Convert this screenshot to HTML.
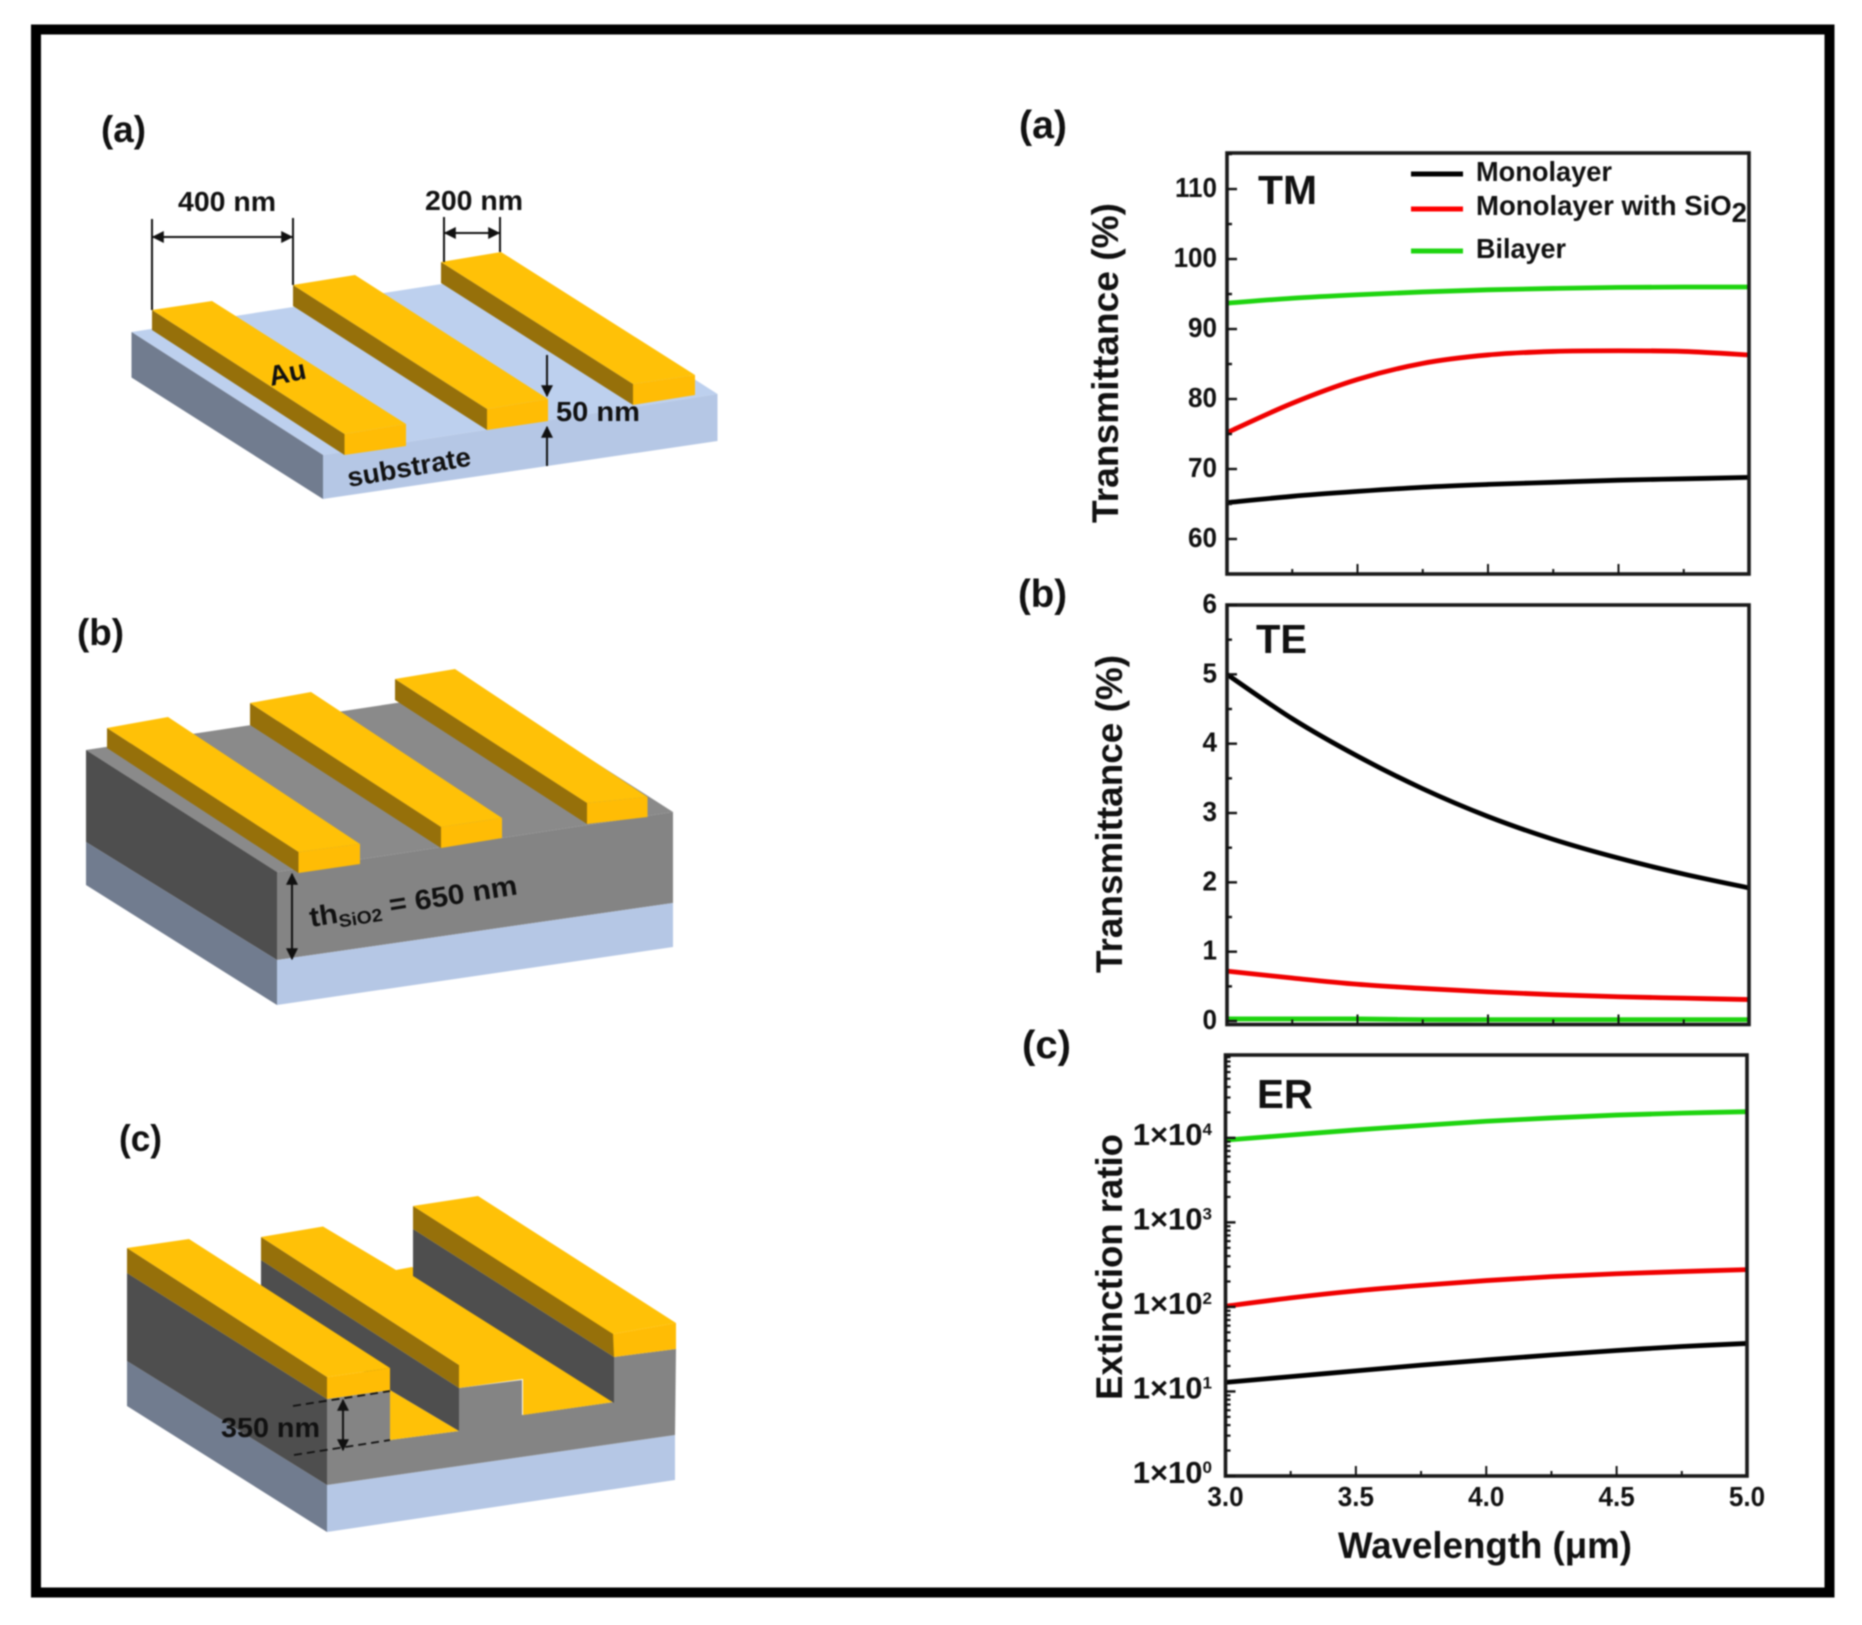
<!DOCTYPE html>
<html lang="en">
<head>
<meta charset="utf-8">
<title>Grating structures and transmittance spectra</title>
<style>
html,body{margin:0;padding:0;background:#fff;width:1862px;height:1625px;overflow:hidden}
svg{display:block;filter:blur(.85px)}
text{font-family:"Liberation Sans",Arial,sans-serif;font-weight:bold;fill:#111}
.gt{fill:#ffc107}.gf{fill:#ffbc05}.gd{fill:#96700a}
.st{fill:#bdd0ee}.sf{fill:#b5c7e5}.sl{fill:#717c8f}
.ot{fill:#8a8a8a}.of{fill:#848484}.ol{fill:#4e4e4e}
.dim{stroke:#111;stroke-width:2;fill:none}
</style>
</head>
<body>
<svg id="fig" xmlns="http://www.w3.org/2000/svg" width="1862" height="1625" viewBox="0 0 1862 1625">
<defs>
<marker id="ah" viewBox="0 0 10 10" refX="9" refY="5" markerWidth="6" markerHeight="6" orient="auto-start-reverse"><path d="M0 0L10 5L0 10z" fill="#111"/></marker>
</defs>
<rect x="36" y="29.5" width="1793.5" height="1563" fill="#fff" stroke="#000" stroke-width="10"/>

<g>
<text x="101" y="142" font-size="37" textLength="45" lengthAdjust="spacingAndGlyphs">(a)</text>
<polygon class="st" points="131.5,332 526,271 717.5,394 323,455"/>
<polygon class="sl" points="131.5,332 323,455 323,499 131.5,377.5"/>
<polygon class="sf" points="323,455 717.5,394 717.5,441 323,499"/>
<g><polygon class="gd" points="152,310 344.5,434 344.5,455 152,330"/><polygon class="gt" points="152,310 212,301 406,424 344.5,434"/><polygon class="gf" points="344.5,434 406,424 406,446 344.5,455"/></g>
<g><polygon class="gd" points="293,285 487,409 487,430 293,306"/><polygon class="gt" points="293,285 355,275 548,399 487,409"/><polygon class="gf" points="487,409 548,399 548,421 487,430"/></g>
<g><polygon class="gd" points="441,262 633,384 633,405 441,283"/><polygon class="gt" points="441,262 501,252 695,375 633,384"/><polygon class="gf" points="633,384 695,375 695,395 633,405"/></g>
<g>
<line class="dim" x1="152" y1="219" x2="152" y2="310"/><line class="dim" x1="293" y1="218" x2="293" y2="285"/>
<line class="dim" x1="153" y1="237" x2="292" y2="237" marker-start="url(#ah)" marker-end="url(#ah)"/>
<text x="178" y="211" font-size="28" textLength="98" lengthAdjust="spacingAndGlyphs">400 nm</text>
</g>
<g>
<line class="dim" x1="444" y1="217" x2="444" y2="262"/><line class="dim" x1="500" y1="217" x2="500" y2="252"/>
<line class="dim" x1="445" y1="233" x2="499" y2="233" marker-start="url(#ah)" marker-end="url(#ah)"/>
<text x="425" y="210" font-size="28" textLength="98" lengthAdjust="spacingAndGlyphs">200 nm</text>
</g>
<g>
<line class="dim" x1="547" y1="355" x2="547" y2="396" marker-end="url(#ah)"/>
<line class="dim" x1="547" y1="466" x2="547" y2="427" marker-end="url(#ah)" stroke-width="1"/>
<text x="556" y="421" font-size="28" textLength="84" lengthAdjust="spacingAndGlyphs">50 nm</text>
</g>
<text transform="translate(271,386) rotate(-12)" font-size="28">Au</text>
<text transform="translate(349,487) rotate(-10)" font-size="27" textLength="125" lengthAdjust="spacingAndGlyphs">substrate</text>
</g>

<g>
<text x="77" y="645" font-size="37" textLength="47" lengthAdjust="spacingAndGlyphs">(b)</text>
<polygon class="ot" points="86,750 482,690 673,812 277,872"/>
<polygon class="ol" points="86,750 277,872 277,960 86,842"/>
<polygon class="of" points="277,872 673,812 673,903 277,960"/>
<polygon class="sl" points="86,842 277,960 277,1005 86,885"/>
<polygon class="sf" points="277,960 673,903 673,947 277,1005"/>
<g><polygon class="gd" points="107,728 298.5,852 298.5,873 107,748"/><polygon class="gt" points="107,728 168,717 360,844 298.5,852"/><polygon class="gf" points="298.5,852 360,844 360,864 298.5,873"/></g>
<g><polygon class="gd" points="250,703 441,827 441,848 250,725"/><polygon class="gt" points="250,703 311,692 502,818 441,827"/><polygon class="gf" points="441,827 502,818 502,838 441,848"/></g>
<g><polygon class="gd" points="395,679 587,803 587,824 395,700"/><polygon class="gt" points="395,679 455,669 647.5,797 587,803"/><polygon class="gf" points="587,803 647.5,797 647.5,817 587,824"/></g>
<line class="dim" x1="292" y1="874" x2="292" y2="959" marker-start="url(#ah)" marker-end="url(#ah)"/>
<text transform="translate(311,927) rotate(-9)" font-size="28" textLength="210" lengthAdjust="spacingAndGlyphs">th<tspan font-size="18" dy="5">SiO2</tspan><tspan dy="-5"> = 650 nm</tspan></text>
</g>

<g>
<text x="119" y="1151" font-size="37" textLength="43" lengthAdjust="spacingAndGlyphs">(c)</text>
<polygon class="sl" points="127,1361 327,1485 327,1532 127,1406"/>
<polygon class="sf" points="327,1485 675,1435 675,1480 327,1532"/>
<polygon class="ol" points="127,1273 327,1399 327,1485 127,1361"/>
<polygon class="of" points="327,1399 390,1390 390,1440 459,1431 459,1388 522,1380 522,1415 614,1402 614,1357 676,1349 675,1435 327,1485"/>
<polygon class="gt" points="390,1390 459,1431 390,1440"/>
<polygon class="ol" points="261,1260 459,1388 459,1431 390,1390 261,1300"/>
<polygon class="gd" points="261,1237 459,1365 459,1388 261,1260"/>
<polygon class="gt" points="261,1237 323,1226.5 396,1270 412,1267 614,1402 523,1415 523,1379 459,1388 459,1365"/>
<polygon class="ol" points="413,1229 614,1357 614,1403 413,1276"/>
<polygon class="gd" points="413,1206 614,1334 614,1357 413,1229"/>
<polygon class="gt" points="413,1206 478,1196 676,1323 613,1334"/>
<polygon class="gf" points="613,1334 676,1323 676,1349 614,1357"/>
<polygon class="gd" points="127,1248 327,1377 327,1399 127,1273"/>
<polygon class="gt" points="127,1248 189,1239 390,1368 327,1377"/>
<polygon class="gf" points="327,1377 390,1368 390,1390 327,1399"/>
<g>
<line stroke="#111" stroke-width="1.8" stroke-dasharray="8 5" x1="293" y1="1406" x2="390" y2="1391"/>
<line stroke="#111" stroke-width="1.8" stroke-dasharray="8 5" x1="294" y1="1455" x2="390" y2="1440"/>
<line class="dim" x1="343" y1="1400" x2="343" y2="1450" stroke-width="2.5" marker-start="url(#ah)" marker-end="url(#ah)"/>
<text x="221" y="1437" font-size="28" textLength="99" lengthAdjust="spacingAndGlyphs">350 nm</text>
</g>
</g>

<g>
<text x="1019" y="138" font-size="39" textLength="48" lengthAdjust="spacingAndGlyphs">(a)</text>
<text x="1018" y="607" font-size="39" textLength="49" lengthAdjust="spacingAndGlyphs">(b)</text>
<text x="1022" y="1058" font-size="39" textLength="49" lengthAdjust="spacingAndGlyphs">(c)</text>
<text x="1258" y="204" font-size="41" textLength="59" lengthAdjust="spacingAndGlyphs">TM</text>
<text x="1256" y="653" font-size="41" textLength="51" lengthAdjust="spacingAndGlyphs">TE</text>
<text x="1257" y="1108" font-size="41" textLength="56" lengthAdjust="spacingAndGlyphs">ER</text>
<text transform="translate(1118,523) rotate(-90)" font-size="37" textLength="320" lengthAdjust="spacingAndGlyphs">Transmittance (%)</text>
<text transform="translate(1122,973) rotate(-90)" font-size="37" textLength="318" lengthAdjust="spacingAndGlyphs">Transmittance (%)</text>
<text transform="translate(1122,1400) rotate(-90)" font-size="37" textLength="266" lengthAdjust="spacingAndGlyphs">Extinction ratio</text>
<text x="1338" y="1558" font-size="37" textLength="294" lengthAdjust="spacingAndGlyphs">Wavelength (μm)</text>
</g>

<g id="charts"></g>

<g>
<line x1="1411" y1="174" x2="1463" y2="174" stroke="#000" stroke-width="5"/>
<text x="1476" y="181" font-size="28" textLength="136" lengthAdjust="spacingAndGlyphs">Monolayer</text>
<line x1="1411" y1="209" x2="1463" y2="209" stroke="#f00" stroke-width="5"/>
<text x="1476" y="215" font-size="28" textLength="271" lengthAdjust="spacingAndGlyphs">Monolayer with SiO<tspan dy="7">2</tspan></text>
<line x1="1411" y1="251" x2="1463" y2="251" stroke="#1ed40f" stroke-width="5"/>
<text x="1476" y="258" font-size="28" textLength="90" lengthAdjust="spacingAndGlyphs">Bilayer</text>
</g>
</svg>
<script>
// ---- data ----
const wavelengths = [3.0, 3.25, 3.5, 3.75, 4.0, 4.25, 4.5, 4.75, 5.0];
const tmMonolayer = [65.2, 66.1, 66.8, 67.4, 67.8, 68.1, 68.4, 68.6, 68.8];
const tmMonolayerSio2 = [75.2, 79.4, 82.8, 85.1, 86.3, 86.8, 86.9, 86.8, 86.3];
const tmBilayer = [93.7, 94.4, 94.9, 95.3, 95.6, 95.8, 95.95, 96.0, 96.0];
const teMonolayer = [5.0, 4.36, 3.82, 3.35, 2.95, 2.62, 2.35, 2.12, 1.92];
const teMonolayerSio2 = [0.72, 0.62, 0.53, 0.47, 0.42, 0.38, 0.35, 0.33, 0.31];
const teBilayer = [0.03, 0.03, 0.03, 0.02, 0.02, 0.02, 0.02, 0.02, 0.02];
const erMonolayer = [12.8, 15, 17.5, 20.5, 23.6, 27, 30.5, 34, 37];
const erMonolayerSio2 = [102, 128, 155, 180, 205, 228, 247, 262, 276];
const erBilayer = [9400, 10800, 12400, 14000, 15700, 17200, 18600, 19600, 20400];
const tmTicks = [60, 70, 80, 90, 100, 110];
const teTicks = [0, 1, 2, 3, 4, 5, 6];
const erTicks = [0, 1, 2, 3, 4];
const xTickLabels = ['3.0', '3.5', '4.0', '4.5', '5.0'];
const seriesColors = ['#000000', '#f00000', '#1ed40f'];
const seriesNames = ['monolayer', 'monolayer-sio2', 'bilayer'];

const svgNS = 'http://www.w3.org/2000/svg';
const root = document.getElementById('charts');

function make(tag, parent) {
  const el = document.createElementNS(svgNS, tag);
  parent.appendChild(el);
  return el;
}
function linearScale(d0, d1, r0, r1) {
  return v => r0 + (v - d0) * (r1 - r0) / (d1 - d0);
}
function logScale(d0, d1, r0, r1) {
  return v => r0 + (Math.log10(v) - d0) * (r1 - r0) / (d1 - d0);
}
function smoothPath(pts) {
  let d = 'M' + pts[0][0].toFixed(2) + ' ' + pts[0][1].toFixed(2);
  for (let i = 0; i < pts.length - 1; i++) {
    const p0 = pts[Math.max(i - 1, 0)], p1 = pts[i], p2 = pts[i + 1], p3 = pts[Math.min(i + 2, pts.length - 1)];
    const c1x = p1[0] + (p2[0] - p0[0]) / 6, c1y = p1[1] + (p2[1] - p0[1]) / 6;
    const c2x = p2[0] - (p3[0] - p1[0]) / 6, c2y = p2[1] - (p3[1] - p1[1]) / 6;
    d += 'C' + c1x.toFixed(2) + ' ' + c1y.toFixed(2) + ' ' + c2x.toFixed(2) + ' ' + c2y.toFixed(2) + ' ' + p2[0].toFixed(2) + ' ' + p2[1].toFixed(2);
  }
  return d;
}
function tickLine(parent, x1, y1, x2, y2, w) {
  const l = make('line', parent);
  l.setAttribute('x1', x1); l.setAttribute('y1', y1);
  l.setAttribute('x2', x2); l.setAttribute('y2', y2);
  l.setAttribute('stroke', '#111'); l.setAttribute('stroke-width', w);
  
  
  return l;
}
function drawPanel(name, left, right, top, bottom, xs, ys, series) {
  const g = make('g', root);
  
  
  series.forEach((vals, i) => {
    const path = make('path', g);
    path.setAttribute('d', smoothPath(wavelengths.map((w, k) => [xs(w), ys(vals[k])])));
    path.setAttribute('fill', 'none');
    path.setAttribute('stroke', seriesColors[i]);
    path.setAttribute('stroke-width', '4.8');
    
    
  });
  const box = make('rect', g);
  box.setAttribute('x', left); box.setAttribute('y', top);
  box.setAttribute('width', right - left); box.setAttribute('height', bottom - top);
  box.setAttribute('fill', 'none'); box.setAttribute('stroke', '#1a1a1a'); box.setAttribute('stroke-width', '3.6');
  
  
  for (let w = 3.25; w < 5; w += 0.25) {
    const major = Math.abs((w * 2) - Math.round(w * 2)) < 1e-6;
    tickLine(g, xs(w), bottom, xs(w), bottom - (major ? 10 : 5), 2);
  }
  return g;
}
function tickLabel(parent, x, y, anchor, size, str) {
  const t = make('text', parent);
  t.setAttribute('x', x); t.setAttribute('y', y);
  t.setAttribute('text-anchor', anchor);
  t.setAttribute('font-size', size);
  t.textContent = str;
  t.setAttribute('textLength', (t.getComputedTextLength() * 0.93).toFixed(1));
  t.setAttribute('lengthAdjust', 'spacingAndGlyphs');
  
  
  return t;
}

// TM panel
const tmX = linearScale(3, 5, 1227, 1749);
const tmY = linearScale(55, 115.15, 574, 153);
const tmG = drawPanel('tm-chart', 1227, 1749, 153, 574, tmX, tmY, [tmMonolayer, tmMonolayerSio2, tmBilayer]);
tmTicks.forEach(v => {
  tickLine(tmG, 1227, tmY(v), 1237, tmY(v), 2.4);
  tickLine(tmG, 1227, tmY(v + 5), 1232, tmY(v + 5), 2.4);
  tickLabel(tmG, 1217, tmY(v) + 8, 'end', 28, String(v));
});

// TE panel
const teX = linearScale(3, 5, 1227, 1749);
const teY = linearScale(-0.05, 6, 1024.5, 605);
const teG = drawPanel('te-chart', 1227, 1749, 605, 1024.5, teX, teY, [teMonolayer, teMonolayerSio2, teBilayer]);
teTicks.forEach(v => {
  tickLine(teG, 1227, teY(v), 1237, teY(v), 2.4);
  if (v < 6) tickLine(teG, 1227, teY(v + 0.5), 1232, teY(v + 0.5), 2.4);
  tickLabel(teG, 1217, teY(v) + 8, 'end', 28, String(v));
});

// ER panel (log axis)
const erX = linearScale(3, 5, 1225.5, 1747);
const erY = logScale(0, 4.98, 1476, 1055);
const erG = drawPanel('er-chart', 1225.5, 1747, 1055, 1476, erX, erY, [erMonolayer, erMonolayerSio2, erBilayer]);
erTicks.forEach(p => {
  const base = Math.pow(10, p);
  tickLine(erG, 1225.5, erY(base), 1235.5, erY(base), 2.4);
  for (let m = 2; m <= 9; m++) tickLine(erG, 1225.5, erY(base * m), 1230.5, erY(base * m), 2.2);
  const t = make('text', erG);
  t.setAttribute('x', 1212);
  t.setAttribute('y', erY(base) + 7);
  t.setAttribute('text-anchor', 'end');
  t.setAttribute('font-size', '31');
  
  
  t.textContent = '1×10';
  const s = make('tspan', t);
  s.setAttribute('font-size', '17');
  s.setAttribute('dy', '-10');
  s.textContent = String(p);
});
xTickLabels.forEach(str => {
  tickLabel(erG, erX(parseFloat(str)), 1506, 'middle', 28, str);
});
</script>
</body>
</html>
